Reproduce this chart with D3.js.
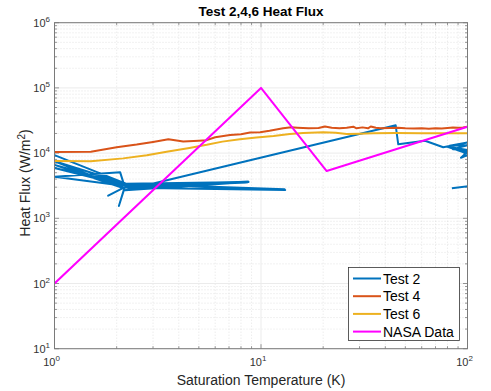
<!DOCTYPE html>
<html><head><meta charset="utf-8">
<script src="https://cdn.jsdelivr.net/npm/d3@7"></script>
<style>body{margin:0;background:#fff}svg{display:block}text{font-family:"Liberation Sans",Arial,Helvetica,sans-serif}</style>
</head><body><svg id="c" width="491" height="391"></svg>
<script>
const title = "Test 2,4,6 Heat Flux";
const xLabel = "Saturation Temperature (K)";
const yLabel = "Heat Flux (W/m";
const xTickExps = [0, 1, 2];
const yTickExps = [1, 2, 3, 4, 5, 6];
const seriesNames = ["Test 2", "Test 4", "Test 6", "NASA Data"];
const seriesColors = ["#0072BD", "#D95319", "#EDB120", "#FF00FF"];

// Test 2 (T, Q) — messy path, partly beyond x=100 (clipped)
const test2T = [1, 2.2, 1, 2.15, 1, 2.2, 1, 2.25, 1, 2.08, 2.19, 1.82, 2.19, 2.05, 2.2,
  8.7, 2.25, 8.6, 2.2, 13.1, 2.3, 13.0, 2.2, 8.7, 2.2,
  44.9, 46.2, 62.3, 76.3, 100, 82, 100, 85, 100, 80, 100, 90, 100, 93, 100, 115, 115, 84];
const test2Q = [9300, 3440, 7500, 2920, 6600, 3300, 5900, 3100, 4350, 5070, 3010, 2220, 3010, 1545, 3200,
  3640, 3300, 3550, 3000, 2720, 2950, 2780, 3400, 3600, 2700,
  26700, 13650, 15500, 12300, 14500, 13000, 13200, 11500, 11200, 12500, 9800, 11800, 10500, 8500, 9300, 10000, 3250, 2890];

const test4T = [1, 1.5, 2.0, 2.5, 3.0, 3.56, 4.2, 5.0, 5.46, 6.0, 7.08, 8.0, 8.85, 9.9, 11.0, 12.8, 14, 15, 17, 19,
  20.4, 22, 24, 26, 28, 29, 31, 33, 34, 36, 38, 42, 46, 50, 55, 60, 65, 70, 75, 80, 85, 90, 95, 100];
const test4Q = [10400, 10500, 12300, 13500, 14800, 16300, 15100, 15500, 15800, 17500, 19000, 19500, 20700, 20900, 22000, 24000, 24900, 24500, 24000, 24200,
  25600, 24500, 24000, 24500, 25400, 24000, 24800, 24000, 25600, 24500, 24000, 24300, 24500, 24000, 23800, 24000, 23700, 24000, 23800, 24200, 24600, 24400, 24800, 25400];

const test6T = [1, 1.5, 2.15, 2.8, 3.49, 4.5, 5.46, 6.5, 7.9, 9.5, 11.5, 13.8, 16, 20, 23, 26, 30, 35, 45, 60, 80, 100];
const test6Q = [7570, 7500, 8300, 9300, 10500, 12000, 13400, 15000, 16300, 17400, 18300, 19600, 20300, 20900, 20600, 19600, 19800, 20200, 20300, 20200, 20200, 20200];

const nasaT = [1, 10, 20.8, 100];
const nasaQ = [100, 100000, 5300, 25400];

const svg = d3.select("#c");
const L = 54.5, R = 467.5, T = 22.7, B = 348.7;
const x = d3.scaleLog().domain([1, 100]).range([L, R]);
const y = d3.scaleLog().domain([10, 1e6]).range([B, T]);

// grids
const xMinor = [], yMinor = [];
for (let e = 0; e < 2; e++) for (let m = 2; m <= 9; m++) xMinor.push(m * Math.pow(10, e));
for (let e = 1; e < 6; e++) for (let m = 2; m <= 9; m++) yMinor.push(m * Math.pow(10, e));
const g = svg.append("g");
g.selectAll(".xm").data(xMinor).enter().append("line")
  .attr("x1", d => x(d)).attr("x2", d => x(d)).attr("y1", T).attr("y2", B)
  .attr("stroke", "#d9d9d9").attr("stroke-width", 0.7).attr("stroke-dasharray", "1,2");
g.selectAll(".ym").data(yMinor).enter().append("line")
  .attr("y1", d => y(d)).attr("y2", d => y(d)).attr("x1", L).attr("x2", R)
  .attr("stroke", "#d9d9d9").attr("stroke-width", 0.7).attr("stroke-dasharray", "1,2");
g.selectAll(".xM").data(xTickExps).enter().append("line")
  .attr("x1", d => x(Math.pow(10, d))).attr("x2", d => x(Math.pow(10, d))).attr("y1", T).attr("y2", B)
  .attr("stroke", "#ebebeb").attr("stroke-width", 1);
g.selectAll(".yM").data(yTickExps).enter().append("line")
  .attr("y1", d => y(Math.pow(10, d))).attr("y2", d => y(Math.pow(10, d))).attr("x1", L).attr("x2", R)
  .attr("stroke", "#ebebeb").attr("stroke-width", 1);

// ticks (inside, all four sides)
const tk = svg.append("g").attr("stroke", "#555").attr("stroke-width", 0.6);
xMinor.forEach(v => { tk.append("line").attr("x1", x(v)).attr("x2", x(v)).attr("y1", B).attr("y2", B - 2.5);
  tk.append("line").attr("x1", x(v)).attr("x2", x(v)).attr("y1", T).attr("y2", T + 2.5); });
yMinor.forEach(v => { tk.append("line").attr("y1", y(v)).attr("y2", y(v)).attr("x1", L).attr("x2", L + 2.5);
  tk.append("line").attr("y1", y(v)).attr("y2", y(v)).attr("x1", R).attr("x2", R - 2.5); });
xTickExps.forEach(e => { const v = Math.pow(10, e);
  tk.append("line").attr("x1", x(v)).attr("x2", x(v)).attr("y1", B).attr("y2", B - 4.5);
  tk.append("line").attr("x1", x(v)).attr("x2", x(v)).attr("y1", T).attr("y2", T + 4.5); });
yTickExps.forEach(e => { const v = Math.pow(10, e);
  tk.append("line").attr("y1", y(v)).attr("y2", y(v)).attr("x1", L).attr("x2", L + 4.5);
  tk.append("line").attr("y1", y(v)).attr("y2", y(v)).attr("x1", R).attr("x2", R - 4.5); });

// data
svg.append("clipPath").attr("id", "clip").append("rect").attr("x", L).attr("y", T).attr("width", R - L).attr("height", B - T);
const line = d3.line().x(d => x(d[0])).y(d => y(d[1]));
const series = [
  d3.zip(test2T, test2Q), d3.zip(test4T, test4Q), d3.zip(test6T, test6Q), d3.zip(nasaT, nasaQ)
];
const dg = svg.append("g").attr("clip-path", "url(#clip)");
series.forEach((s, i) => {
  dg.append("path").attr("d", line(s)).attr("fill", "none").attr("stroke", seriesColors[i])
    .attr("stroke-width", 2).attr("stroke-linejoin", "round");
});

// box
svg.append("rect").attr("x", L).attr("y", T).attr("width", R - L).attr("height", B - T)
  .attr("fill", "none").attr("stroke", "#7a7a7a").attr("stroke-width", 1);

// tick labels
xTickExps.forEach(e => {
  const t = svg.append("text").attr("x", x(Math.pow(10, e)) - 3).attr("y", 366).attr("text-anchor", "middle")
    .attr("font-size", 11).attr("fill", "#333");
  t.append("tspan").text("10");
  t.append("tspan").attr("dy", -5).attr("font-size", 8).text(e);
});
yTickExps.forEach(e => {
  const t = svg.append("text").attr("x", 50).attr("y", y(Math.pow(10, e)) + 4).attr("text-anchor", "end")
    .attr("font-size", 11).attr("fill", "#333");
  t.append("tspan").text("10");
  t.append("tspan").attr("dy", -5).attr("font-size", 8).text(e);
});

// titles
svg.append("text").attr("x", (L + R) / 2).attr("y", 16).attr("text-anchor", "middle")
  .attr("font-size", 13.5).attr("font-weight", "bold").attr("fill", "#000").text(title);
svg.append("text").attr("x", (L + R) / 2).attr("y", 385).attr("text-anchor", "middle")
  .attr("font-size", 14).attr("fill", "#262626").text(xLabel);
const yl = svg.append("text").attr("transform", "translate(30,183) rotate(-90)").attr("text-anchor", "middle")
  .attr("font-size", 14).attr("fill", "#262626");
yl.append("tspan").text(yLabel);
yl.append("tspan").attr("dy", -5).attr("font-size", 10).text("2");
yl.append("tspan").attr("dy", 5).text(")");

// legend
const lg = svg.append("g");
lg.append("rect").attr("x", 348.5).attr("y", 267.5).attr("width", 111).attr("height", 73)
  .attr("fill", "#fff").attr("stroke", "#333").attr("stroke-width", 0.8);
seriesNames.forEach((n, i) => {
  const yy = 278.5 + i * 17.7;
  lg.append("line").attr("x1", 353).attr("x2", 381).attr("y1", yy).attr("y2", yy)
    .attr("stroke", seriesColors[i]).attr("stroke-width", 2);
  lg.append("text").attr("x", 383).attr("y", yy + 5).attr("font-size", 14).attr("fill", "#000").text(n);
});
</script></body></html>
